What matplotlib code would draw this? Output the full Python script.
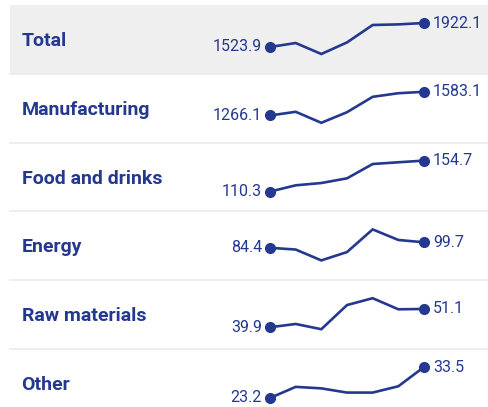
import matplotlib
matplotlib.use("Agg")
import matplotlib.pyplot as plt
from matplotlib.patches import Rectangle

plt.rcParams['font.family'] = ['Roboto', 'DejaVu Sans']

categories = ["Total", "Manufacturing", "Food and drinks", "Energy",
              "Raw materials", "Other"]
total = [1523.9, 1590.0, 1407.7, 1600.0, 1889.0, 1899.0, 1922.1]
manufacturing = [1266.1, 1315.6, 1168.4, 1310.0, 1516.0, 1564.0, 1583.1]
food = [110.3, 119.3, 122.6, 129.3, 149.8, 152.3, 154.7]
energy = [84.4, 79.6, 49.4, 72.6, 135.6, 106.2, 99.7]
raw = [39.9, 41.9, 38.7, 53.5, 57.7, 50.9, 51.1]
other = [23.2, 26.9, 26.4, 25.0, 25.0, 27.1, 33.5]
series = [total, manufacturing, food, energy, raw, other]

W, H = 489, 407
navy = '#24388f'
row_h = 68.8
top0 = 5

fig = plt.figure(figsize=(W / 100, H / 100), dpi=100)
bg = fig.add_axes([0, 0, 1, 1])
bg.set_xlim(0, W)
bg.set_ylim(H, 0)
bg.axis('off')

for i, (name, vals) in enumerate(zip(categories, series)):
    top = top0 + i * row_h
    if i == 0:
        bg.add_patch(Rectangle((10, top), W - 10, row_h, color='#efefef', lw=0))
    else:
        bg.plot([10, W], [top, top], color='#ededed', lw=1.3)
    bg.text(21.5, top + row_h / 2 + 1.5, name, fontsize=14, fontweight='bold',
            color=navy, va='center', ha='left')

    # sparkline
    ax = fig.add_axes([270 / W, 1 - (top + 49) / H, 154 / W, 31 / H])
    ax.axis('off')
    x = list(range(len(vals)))
    ax.plot(x, vals, color=navy, lw=1.9, solid_joinstyle='miter', clip_on=False)
    ax.plot([x[0], x[-1]], [vals[0], vals[-1]], 'o', color=navy, ms=7,
            clip_on=False)
    ax.set_xlim(0, len(vals) - 1)
    ax.set_ylim(min(vals), max(vals))
    ax.annotate(f"{vals[0]}", (x[0], vals[0]), xytext=(-8, 0),
                textcoords='offset pixels', ha='right', va='center',
                fontsize=11.5, color=navy)
    ax.annotate(f"{vals[-1]}", (x[-1], vals[-1]), xytext=(9, 0),
                textcoords='offset pixels', ha='left', va='center',
                fontsize=11.5, color=navy)

fig.savefig("out.png", dpi=100)
